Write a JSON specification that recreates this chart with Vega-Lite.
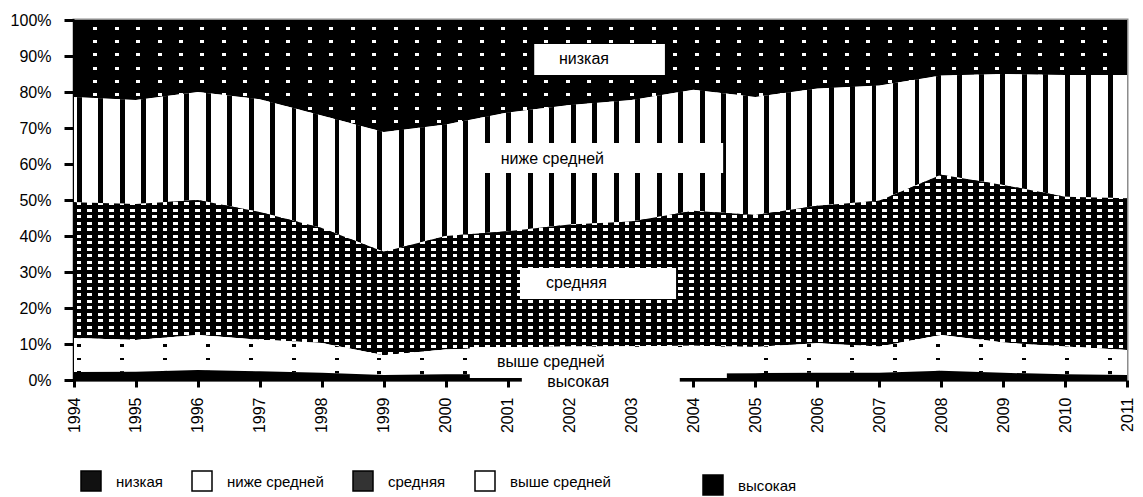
{
"$schema": "https://vega.github.io/schema/vega-lite/v6.json",
"width": 1053,
"height": 360,
"autosize": {"type": "none"},
"padding": {"left": 74, "top": 20, "right": 16, "bottom": 117},
"background": "#ffffff",
"datasets": {
"shares": [
{"year":1994,"cat":"высокая","o":1,"v":2.2},{"year":1994,"cat":"выше средней","o":2,"v":9.5},{"year":1994,"cat":"средняя","o":3,"v":37.7},{"year":1994,"cat":"ниже средней","o":4,"v":29.2},{"year":1994,"cat":"низкая","o":5,"v":21.4},
{"year":1995,"cat":"высокая","o":1,"v":2.3},{"year":1995,"cat":"выше средней","o":2,"v":8.8},{"year":1995,"cat":"средняя","o":3,"v":37.8},{"year":1995,"cat":"ниже средней","o":4,"v":28.9},{"year":1995,"cat":"низкая","o":5,"v":22.2},
{"year":1996,"cat":"высокая","o":1,"v":2.8},{"year":1996,"cat":"выше средней","o":2,"v":9.7},{"year":1996,"cat":"средняя","o":3,"v":37.5},{"year":1996,"cat":"ниже средней","o":4,"v":30.0},{"year":1996,"cat":"низкая","o":5,"v":20.0},
{"year":1997,"cat":"высокая","o":1,"v":2.4},{"year":1997,"cat":"выше средней","o":2,"v":8.8},{"year":1997,"cat":"средняя","o":3,"v":35.5},{"year":1997,"cat":"ниже средней","o":4,"v":31.3},{"year":1997,"cat":"низкая","o":5,"v":22.0},
{"year":1998,"cat":"высокая","o":1,"v":2.0},{"year":1998,"cat":"выше средней","o":2,"v":8.3},{"year":1998,"cat":"средняя","o":3,"v":31.9},{"year":1998,"cat":"ниже средней","o":4,"v":31.3},{"year":1998,"cat":"низкая","o":5,"v":26.5},
{"year":1999,"cat":"высокая","o":1,"v":1.4},{"year":1999,"cat":"выше средней","o":2,"v":5.5},{"year":1999,"cat":"средняя","o":3,"v":28.7},{"year":1999,"cat":"ниже средней","o":4,"v":33.3},{"year":1999,"cat":"низкая","o":5,"v":31.1},
{"year":2000,"cat":"высокая","o":1,"v":1.6},{"year":2000,"cat":"выше средней","o":2,"v":6.9},{"year":2000,"cat":"средняя","o":3,"v":31.5},{"year":2000,"cat":"ниже средней","o":4,"v":31.0},{"year":2000,"cat":"низкая","o":5,"v":29.0},
{"year":2001,"cat":"высокая","o":1,"v":1.6},{"year":2001,"cat":"выше средней","o":2,"v":7.4},{"year":2001,"cat":"средняя","o":3,"v":32.3},{"year":2001,"cat":"ниже средней","o":4,"v":33.0},{"year":2001,"cat":"низкая","o":5,"v":25.7},
{"year":2002,"cat":"высокая","o":1,"v":1.7},{"year":2002,"cat":"выше средней","o":2,"v":7.6},{"year":2002,"cat":"средняя","o":3,"v":33.9},{"year":2002,"cat":"ниже средней","o":4,"v":33.2},{"year":2002,"cat":"низкая","o":5,"v":23.6},
{"year":2003,"cat":"высокая","o":1,"v":1.7},{"year":2003,"cat":"выше средней","o":2,"v":7.7},{"year":2003,"cat":"средняя","o":3,"v":34.6},{"year":2003,"cat":"ниже средней","o":4,"v":33.8},{"year":2003,"cat":"низкая","o":5,"v":22.2},
{"year":2004,"cat":"высокая","o":1,"v":1.8},{"year":2004,"cat":"выше средней","o":2,"v":7.7},{"year":2004,"cat":"средняя","o":3,"v":37.5},{"year":2004,"cat":"ниже средней","o":4,"v":33.6},{"year":2004,"cat":"низкая","o":5,"v":19.4},
{"year":2005,"cat":"высокая","o":1,"v":1.9},{"year":2005,"cat":"выше средней","o":2,"v":7.3},{"year":2005,"cat":"средняя","o":3,"v":36.6},{"year":2005,"cat":"ниже средней","o":4,"v":32.8},{"year":2005,"cat":"низкая","o":5,"v":21.4},
{"year":2006,"cat":"высокая","o":1,"v":2.0},{"year":2006,"cat":"выше средней","o":2,"v":8.2},{"year":2006,"cat":"средняя","o":3,"v":38.2},{"year":2006,"cat":"ниже средней","o":4,"v":32.6},{"year":2006,"cat":"низкая","o":5,"v":19.0},
{"year":2007,"cat":"высокая","o":1,"v":2.0},{"year":2007,"cat":"выше средней","o":2,"v":7.3},{"year":2007,"cat":"средняя","o":3,"v":40.5},{"year":2007,"cat":"ниже средней","o":4,"v":32.0},{"year":2007,"cat":"низкая","o":5,"v":18.2},
{"year":2008,"cat":"высокая","o":1,"v":2.6},{"year":2008,"cat":"выше средней","o":2,"v":9.9},{"year":2008,"cat":"средняя","o":3,"v":44.5},{"year":2008,"cat":"ниже средней","o":4,"v":27.6},{"year":2008,"cat":"низкая","o":5,"v":15.4},
{"year":2009,"cat":"высокая","o":1,"v":2.0},{"year":2009,"cat":"выше средней","o":2,"v":8.4},{"year":2009,"cat":"средняя","o":3,"v":43.8},{"year":2009,"cat":"ниже средней","o":4,"v":30.8},{"year":2009,"cat":"низкая","o":5,"v":15.0},
{"year":2010,"cat":"высокая","o":1,"v":1.6},{"year":2010,"cat":"выше средней","o":2,"v":7.7},{"year":2010,"cat":"средняя","o":3,"v":41.6},{"year":2010,"cat":"ниже средней","o":4,"v":33.8},{"year":2010,"cat":"низкая","o":5,"v":15.3},
{"year":2011,"cat":"высокая","o":1,"v":1.4},{"year":2011,"cat":"выше средней","o":2,"v":6.9},{"year":2011,"cat":"средняя","o":3,"v":42.2},{"year":2011,"cat":"ниже средней","o":4,"v":34.2},{"year":2011,"cat":"низкая","o":5,"v":15.3}
],
"notes": [
{"label":"низкая","bx":2001.43,"bx2":2003.54,"by":84.7,"by2":93.3,"tx":2001.83,"ty":89.2},
{"label":"ниже средней","bx":2000.51,"bx2":2004.48,"by":57.5,"by2":65.8,"tx":2000.89,"ty":61.4},
{"label":"средняя","bx":2001.2,"bx2":2003.72,"by":22.5,"by2":31.1,"tx":2001.62,"ty":26.9},
{"label":"выше средней","bx":2000.39,"bx2":2004.54,"by":0.56,"by2":9.17,"tx":2000.83,"ty":5.0},
{"label":"высокая","bx":2001.23,"bx2":2003.78,"by":-4.2,"by2":2.8,"tx":2001.64,"ty":-0.56}
]
},
"data": {"name": "shares"},
"layer": [
{
"transform": [{"stack":"v","groupby":["year"],"sort":[{"field":"o","order":"ascending"}],"as":["y0","y1"]},{"filter":"datum.cat === 'низкая'"}],
"mark": {"type":"area","fill":{"gradient":"linear","x1":0,"y1":0,"x2":1,"y2":0,"stops":[
{"offset":0,"color":"#000"},
{"offset":0.0181,"color":"#000"},{"offset":0.0181,"color":"#fff"},{"offset":0.0219,"color":"#fff"},{"offset":0.0219,"color":"#000"},
{"offset":0.0385,"color":"#000"},{"offset":0.0385,"color":"#fff"},{"offset":0.0423,"color":"#fff"},{"offset":0.0423,"color":"#000"},
{"offset":0.0589,"color":"#000"},{"offset":0.0589,"color":"#fff"},{"offset":0.0627,"color":"#fff"},{"offset":0.0627,"color":"#000"},
{"offset":0.0793,"color":"#000"},{"offset":0.0793,"color":"#fff"},{"offset":0.0831,"color":"#fff"},{"offset":0.0831,"color":"#000"},
{"offset":0.0997,"color":"#000"},{"offset":0.0997,"color":"#fff"},{"offset":0.1035,"color":"#fff"},{"offset":0.1035,"color":"#000"},
{"offset":0.1201,"color":"#000"},{"offset":0.1201,"color":"#fff"},{"offset":0.1239,"color":"#fff"},{"offset":0.1239,"color":"#000"},
{"offset":0.1405,"color":"#000"},{"offset":0.1405,"color":"#fff"},{"offset":0.1443,"color":"#fff"},{"offset":0.1443,"color":"#000"},
{"offset":0.1609,"color":"#000"},{"offset":0.1609,"color":"#fff"},{"offset":0.1647,"color":"#fff"},{"offset":0.1647,"color":"#000"},
{"offset":0.1813,"color":"#000"},{"offset":0.1813,"color":"#fff"},{"offset":0.1851,"color":"#fff"},{"offset":0.1851,"color":"#000"},
{"offset":0.2017,"color":"#000"},{"offset":0.2017,"color":"#fff"},{"offset":0.2055,"color":"#fff"},{"offset":0.2055,"color":"#000"},
{"offset":0.2221,"color":"#000"},{"offset":0.2221,"color":"#fff"},{"offset":0.2259,"color":"#fff"},{"offset":0.2259,"color":"#000"},
{"offset":0.2425,"color":"#000"},{"offset":0.2425,"color":"#fff"},{"offset":0.2463,"color":"#fff"},{"offset":0.2463,"color":"#000"},
{"offset":0.2629,"color":"#000"},{"offset":0.2629,"color":"#fff"},{"offset":0.2667,"color":"#fff"},{"offset":0.2667,"color":"#000"},
{"offset":0.2833,"color":"#000"},{"offset":0.2833,"color":"#fff"},{"offset":0.2871,"color":"#fff"},{"offset":0.2871,"color":"#000"},
{"offset":0.3037,"color":"#000"},{"offset":0.3037,"color":"#fff"},{"offset":0.3075,"color":"#fff"},{"offset":0.3075,"color":"#000"},
{"offset":0.3241,"color":"#000"},{"offset":0.3241,"color":"#fff"},{"offset":0.3279,"color":"#fff"},{"offset":0.3279,"color":"#000"},
{"offset":0.3445,"color":"#000"},{"offset":0.3445,"color":"#fff"},{"offset":0.3483,"color":"#fff"},{"offset":0.3483,"color":"#000"},
{"offset":0.3649,"color":"#000"},{"offset":0.3649,"color":"#fff"},{"offset":0.3687,"color":"#fff"},{"offset":0.3687,"color":"#000"},
{"offset":0.3853,"color":"#000"},{"offset":0.3853,"color":"#fff"},{"offset":0.3891,"color":"#fff"},{"offset":0.3891,"color":"#000"},
{"offset":0.4057,"color":"#000"},{"offset":0.4057,"color":"#fff"},{"offset":0.4095,"color":"#fff"},{"offset":0.4095,"color":"#000"},
{"offset":0.4261,"color":"#000"},{"offset":0.4261,"color":"#fff"},{"offset":0.4299,"color":"#fff"},{"offset":0.4299,"color":"#000"},
{"offset":0.4465,"color":"#000"},{"offset":0.4465,"color":"#fff"},{"offset":0.4503,"color":"#fff"},{"offset":0.4503,"color":"#000"},
{"offset":0.4669,"color":"#000"},{"offset":0.4669,"color":"#fff"},{"offset":0.4707,"color":"#fff"},{"offset":0.4707,"color":"#000"},
{"offset":0.4873,"color":"#000"},{"offset":0.4873,"color":"#fff"},{"offset":0.4911,"color":"#fff"},{"offset":0.4911,"color":"#000"},
{"offset":0.5077,"color":"#000"},{"offset":0.5077,"color":"#fff"},{"offset":0.5115,"color":"#fff"},{"offset":0.5115,"color":"#000"},
{"offset":0.5281,"color":"#000"},{"offset":0.5281,"color":"#fff"},{"offset":0.5319,"color":"#fff"},{"offset":0.5319,"color":"#000"},
{"offset":0.5485,"color":"#000"},{"offset":0.5485,"color":"#fff"},{"offset":0.5523,"color":"#fff"},{"offset":0.5523,"color":"#000"},
{"offset":0.5689,"color":"#000"},{"offset":0.5689,"color":"#fff"},{"offset":0.5727,"color":"#fff"},{"offset":0.5727,"color":"#000"},
{"offset":0.5893,"color":"#000"},{"offset":0.5893,"color":"#fff"},{"offset":0.5931,"color":"#fff"},{"offset":0.5931,"color":"#000"},
{"offset":0.6097,"color":"#000"},{"offset":0.6097,"color":"#fff"},{"offset":0.6135,"color":"#fff"},{"offset":0.6135,"color":"#000"},
{"offset":0.6301,"color":"#000"},{"offset":0.6301,"color":"#fff"},{"offset":0.6339,"color":"#fff"},{"offset":0.6339,"color":"#000"},
{"offset":0.6505,"color":"#000"},{"offset":0.6505,"color":"#fff"},{"offset":0.6543,"color":"#fff"},{"offset":0.6543,"color":"#000"},
{"offset":0.6709,"color":"#000"},{"offset":0.6709,"color":"#fff"},{"offset":0.6747,"color":"#fff"},{"offset":0.6747,"color":"#000"},
{"offset":0.6913,"color":"#000"},{"offset":0.6913,"color":"#fff"},{"offset":0.6951,"color":"#fff"},{"offset":0.6951,"color":"#000"},
{"offset":0.7117,"color":"#000"},{"offset":0.7117,"color":"#fff"},{"offset":0.7155,"color":"#fff"},{"offset":0.7155,"color":"#000"},
{"offset":0.7321,"color":"#000"},{"offset":0.7321,"color":"#fff"},{"offset":0.7359,"color":"#fff"},{"offset":0.7359,"color":"#000"},
{"offset":0.7525,"color":"#000"},{"offset":0.7525,"color":"#fff"},{"offset":0.7563,"color":"#fff"},{"offset":0.7563,"color":"#000"},
{"offset":0.7729,"color":"#000"},{"offset":0.7729,"color":"#fff"},{"offset":0.7767,"color":"#fff"},{"offset":0.7767,"color":"#000"},
{"offset":0.7933,"color":"#000"},{"offset":0.7933,"color":"#fff"},{"offset":0.7971,"color":"#fff"},{"offset":0.7971,"color":"#000"},
{"offset":0.8137,"color":"#000"},{"offset":0.8137,"color":"#fff"},{"offset":0.8175,"color":"#fff"},{"offset":0.8175,"color":"#000"},
{"offset":0.8341,"color":"#000"},{"offset":0.8341,"color":"#fff"},{"offset":0.8379,"color":"#fff"},{"offset":0.8379,"color":"#000"},
{"offset":0.8545,"color":"#000"},{"offset":0.8545,"color":"#fff"},{"offset":0.8583,"color":"#fff"},{"offset":0.8583,"color":"#000"},
{"offset":0.8749,"color":"#000"},{"offset":0.8749,"color":"#fff"},{"offset":0.8787,"color":"#fff"},{"offset":0.8787,"color":"#000"},
{"offset":0.8953,"color":"#000"},{"offset":0.8953,"color":"#fff"},{"offset":0.8991,"color":"#fff"},{"offset":0.8991,"color":"#000"},
{"offset":0.9157,"color":"#000"},{"offset":0.9157,"color":"#fff"},{"offset":0.9195,"color":"#fff"},{"offset":0.9195,"color":"#000"},
{"offset":0.9361,"color":"#000"},{"offset":0.9361,"color":"#fff"},{"offset":0.9399,"color":"#fff"},{"offset":0.9399,"color":"#000"},
{"offset":0.9565,"color":"#000"},{"offset":0.9565,"color":"#fff"},{"offset":0.9603,"color":"#fff"},{"offset":0.9603,"color":"#000"},
{"offset":0.9769,"color":"#000"},{"offset":0.9769,"color":"#fff"},{"offset":0.9807,"color":"#fff"},{"offset":0.9807,"color":"#000"},
{"offset":1,"color":"#000"}]}},
"encoding": {
"x": {"field":"year","type":"quantitative","title":null,"scale":{"domain":[1994,2011],"nice":false,"zero":false},"axis":{"values":[1994,1995,1996,1997,1998,1999,2000,2001,2002,2003,2004,2005,2006,2007,2008,2009,2010,2011],"format":"d","title":null}},
"y": {"field":"y0","type":"quantitative","title":null,"scale":{"domain":[0,100],"nice":false,"zero":false},"axis":{"values":[0,10,20,30,40,50,60,70,80,90,100],"labelExpr":"datum.value + '%'","title":null}},
"y2": {"field":"y1"}
}
},
{
"transform": [{"stack":"v","groupby":["year"],"sort":[{"field":"o","order":"ascending"}],"as":["y0","y1"]},{"filter":"datum.cat === 'низкая'"}],
"mark": {"type":"area","fill":{"gradient":"linear","x1":0,"y1":0,"x2":0,"y2":1,"stops":[
{"offset":0,"color":"#000"},
{"offset":0.0607,"color":"#000"},{"offset":0.0607,"color":"rgba(0,0,0,0)"},{"offset":0.0875,"color":"rgba(0,0,0,0)"},{"offset":0.0875,"color":"#000"},
{"offset":0.1795,"color":"#000"},{"offset":0.1795,"color":"rgba(0,0,0,0)"},{"offset":0.2063,"color":"rgba(0,0,0,0)"},{"offset":0.2063,"color":"#000"},
{"offset":0.2983,"color":"#000"},{"offset":0.2983,"color":"rgba(0,0,0,0)"},{"offset":0.3251,"color":"rgba(0,0,0,0)"},{"offset":0.3251,"color":"#000"},
{"offset":0.4171,"color":"#000"},{"offset":0.4171,"color":"rgba(0,0,0,0)"},{"offset":0.4439,"color":"rgba(0,0,0,0)"},{"offset":0.4439,"color":"#000"},
{"offset":0.5359,"color":"#000"},{"offset":0.5359,"color":"rgba(0,0,0,0)"},{"offset":0.5627,"color":"rgba(0,0,0,0)"},{"offset":0.5627,"color":"#000"},
{"offset":0.6547,"color":"#000"},{"offset":0.6547,"color":"rgba(0,0,0,0)"},{"offset":0.6815,"color":"rgba(0,0,0,0)"},{"offset":0.6815,"color":"#000"},
{"offset":0.7735,"color":"#000"},{"offset":0.7735,"color":"rgba(0,0,0,0)"},{"offset":0.8003,"color":"rgba(0,0,0,0)"},{"offset":0.8003,"color":"#000"},
{"offset":0.8923,"color":"#000"},{"offset":0.8923,"color":"rgba(0,0,0,0)"},{"offset":0.9191,"color":"rgba(0,0,0,0)"},{"offset":0.9191,"color":"#000"},
{"offset":1,"color":"#000"}]}},
"encoding": {"x":{"field":"year","type":"quantitative","title":null,"axis":{"values":[1994,1995,1996,1997,1998,1999,2000,2001,2002,2003,2004,2005,2006,2007,2008,2009,2010,2011],"format":"d","title":null}},"y":{"field":"y0","type":"quantitative","title":null,"axis":{"values":[0,10,20,30,40,50,60,70,80,90,100],"labelExpr":"datum.value + '%'","title":null}},"y2":{"field":"y1"}}
},
{
"transform": [{"stack":"v","groupby":["year"],"sort":[{"field":"o","order":"ascending"}],"as":["y0","y1"]},{"filter":"datum.cat === 'ниже средней'"}],
"mark": {"type":"area","fill":{"gradient":"linear","x1":0,"y1":0,"x2":1,"y2":0,"stops":[
{"offset":0,"color":"#fff"},
{"offset":0.0026,"color":"#fff"},{"offset":0.0026,"color":"#000"},{"offset":0.0073,"color":"#000"},{"offset":0.0073,"color":"#fff"},
{"offset":0.0230,"color":"#fff"},{"offset":0.0230,"color":"#000"},{"offset":0.0277,"color":"#000"},{"offset":0.0277,"color":"#fff"},
{"offset":0.0434,"color":"#fff"},{"offset":0.0434,"color":"#000"},{"offset":0.0481,"color":"#000"},{"offset":0.0481,"color":"#fff"},
{"offset":0.0638,"color":"#fff"},{"offset":0.0638,"color":"#000"},{"offset":0.0685,"color":"#000"},{"offset":0.0685,"color":"#fff"},
{"offset":0.0842,"color":"#fff"},{"offset":0.0842,"color":"#000"},{"offset":0.0889,"color":"#000"},{"offset":0.0889,"color":"#fff"},
{"offset":0.1046,"color":"#fff"},{"offset":0.1046,"color":"#000"},{"offset":0.1093,"color":"#000"},{"offset":0.1093,"color":"#fff"},
{"offset":0.1250,"color":"#fff"},{"offset":0.1250,"color":"#000"},{"offset":0.1297,"color":"#000"},{"offset":0.1297,"color":"#fff"},
{"offset":0.1454,"color":"#fff"},{"offset":0.1454,"color":"#000"},{"offset":0.1501,"color":"#000"},{"offset":0.1501,"color":"#fff"},
{"offset":0.1658,"color":"#fff"},{"offset":0.1658,"color":"#000"},{"offset":0.1705,"color":"#000"},{"offset":0.1705,"color":"#fff"},
{"offset":0.1862,"color":"#fff"},{"offset":0.1862,"color":"#000"},{"offset":0.1909,"color":"#000"},{"offset":0.1909,"color":"#fff"},
{"offset":0.2066,"color":"#fff"},{"offset":0.2066,"color":"#000"},{"offset":0.2113,"color":"#000"},{"offset":0.2113,"color":"#fff"},
{"offset":0.2270,"color":"#fff"},{"offset":0.2270,"color":"#000"},{"offset":0.2317,"color":"#000"},{"offset":0.2317,"color":"#fff"},
{"offset":0.2474,"color":"#fff"},{"offset":0.2474,"color":"#000"},{"offset":0.2521,"color":"#000"},{"offset":0.2521,"color":"#fff"},
{"offset":0.2678,"color":"#fff"},{"offset":0.2678,"color":"#000"},{"offset":0.2725,"color":"#000"},{"offset":0.2725,"color":"#fff"},
{"offset":0.2882,"color":"#fff"},{"offset":0.2882,"color":"#000"},{"offset":0.2929,"color":"#000"},{"offset":0.2929,"color":"#fff"},
{"offset":0.3086,"color":"#fff"},{"offset":0.3086,"color":"#000"},{"offset":0.3133,"color":"#000"},{"offset":0.3133,"color":"#fff"},
{"offset":0.3290,"color":"#fff"},{"offset":0.3290,"color":"#000"},{"offset":0.3337,"color":"#000"},{"offset":0.3337,"color":"#fff"},
{"offset":0.3494,"color":"#fff"},{"offset":0.3494,"color":"#000"},{"offset":0.3541,"color":"#000"},{"offset":0.3541,"color":"#fff"},
{"offset":0.3698,"color":"#fff"},{"offset":0.3698,"color":"#000"},{"offset":0.3745,"color":"#000"},{"offset":0.3745,"color":"#fff"},
{"offset":0.3902,"color":"#fff"},{"offset":0.3902,"color":"#000"},{"offset":0.3949,"color":"#000"},{"offset":0.3949,"color":"#fff"},
{"offset":0.4106,"color":"#fff"},{"offset":0.4106,"color":"#000"},{"offset":0.4153,"color":"#000"},{"offset":0.4153,"color":"#fff"},
{"offset":0.4310,"color":"#fff"},{"offset":0.4310,"color":"#000"},{"offset":0.4357,"color":"#000"},{"offset":0.4357,"color":"#fff"},
{"offset":0.4514,"color":"#fff"},{"offset":0.4514,"color":"#000"},{"offset":0.4561,"color":"#000"},{"offset":0.4561,"color":"#fff"},
{"offset":0.4718,"color":"#fff"},{"offset":0.4718,"color":"#000"},{"offset":0.4765,"color":"#000"},{"offset":0.4765,"color":"#fff"},
{"offset":0.4922,"color":"#fff"},{"offset":0.4922,"color":"#000"},{"offset":0.4969,"color":"#000"},{"offset":0.4969,"color":"#fff"},
{"offset":0.5126,"color":"#fff"},{"offset":0.5126,"color":"#000"},{"offset":0.5173,"color":"#000"},{"offset":0.5173,"color":"#fff"},
{"offset":0.5330,"color":"#fff"},{"offset":0.5330,"color":"#000"},{"offset":0.5377,"color":"#000"},{"offset":0.5377,"color":"#fff"},
{"offset":0.5534,"color":"#fff"},{"offset":0.5534,"color":"#000"},{"offset":0.5581,"color":"#000"},{"offset":0.5581,"color":"#fff"},
{"offset":0.5738,"color":"#fff"},{"offset":0.5738,"color":"#000"},{"offset":0.5785,"color":"#000"},{"offset":0.5785,"color":"#fff"},
{"offset":0.5942,"color":"#fff"},{"offset":0.5942,"color":"#000"},{"offset":0.5989,"color":"#000"},{"offset":0.5989,"color":"#fff"},
{"offset":0.6146,"color":"#fff"},{"offset":0.6146,"color":"#000"},{"offset":0.6193,"color":"#000"},{"offset":0.6193,"color":"#fff"},
{"offset":0.6350,"color":"#fff"},{"offset":0.6350,"color":"#000"},{"offset":0.6397,"color":"#000"},{"offset":0.6397,"color":"#fff"},
{"offset":0.6554,"color":"#fff"},{"offset":0.6554,"color":"#000"},{"offset":0.6601,"color":"#000"},{"offset":0.6601,"color":"#fff"},
{"offset":0.6758,"color":"#fff"},{"offset":0.6758,"color":"#000"},{"offset":0.6805,"color":"#000"},{"offset":0.6805,"color":"#fff"},
{"offset":0.6962,"color":"#fff"},{"offset":0.6962,"color":"#000"},{"offset":0.7009,"color":"#000"},{"offset":0.7009,"color":"#fff"},
{"offset":0.7166,"color":"#fff"},{"offset":0.7166,"color":"#000"},{"offset":0.7213,"color":"#000"},{"offset":0.7213,"color":"#fff"},
{"offset":0.7370,"color":"#fff"},{"offset":0.7370,"color":"#000"},{"offset":0.7417,"color":"#000"},{"offset":0.7417,"color":"#fff"},
{"offset":0.7574,"color":"#fff"},{"offset":0.7574,"color":"#000"},{"offset":0.7621,"color":"#000"},{"offset":0.7621,"color":"#fff"},
{"offset":0.7778,"color":"#fff"},{"offset":0.7778,"color":"#000"},{"offset":0.7825,"color":"#000"},{"offset":0.7825,"color":"#fff"},
{"offset":0.7982,"color":"#fff"},{"offset":0.7982,"color":"#000"},{"offset":0.8029,"color":"#000"},{"offset":0.8029,"color":"#fff"},
{"offset":0.8186,"color":"#fff"},{"offset":0.8186,"color":"#000"},{"offset":0.8233,"color":"#000"},{"offset":0.8233,"color":"#fff"},
{"offset":0.8390,"color":"#fff"},{"offset":0.8390,"color":"#000"},{"offset":0.8437,"color":"#000"},{"offset":0.8437,"color":"#fff"},
{"offset":0.8594,"color":"#fff"},{"offset":0.8594,"color":"#000"},{"offset":0.8641,"color":"#000"},{"offset":0.8641,"color":"#fff"},
{"offset":0.8798,"color":"#fff"},{"offset":0.8798,"color":"#000"},{"offset":0.8845,"color":"#000"},{"offset":0.8845,"color":"#fff"},
{"offset":0.9002,"color":"#fff"},{"offset":0.9002,"color":"#000"},{"offset":0.9049,"color":"#000"},{"offset":0.9049,"color":"#fff"},
{"offset":0.9206,"color":"#fff"},{"offset":0.9206,"color":"#000"},{"offset":0.9253,"color":"#000"},{"offset":0.9253,"color":"#fff"},
{"offset":0.9410,"color":"#fff"},{"offset":0.9410,"color":"#000"},{"offset":0.9457,"color":"#000"},{"offset":0.9457,"color":"#fff"},
{"offset":0.9614,"color":"#fff"},{"offset":0.9614,"color":"#000"},{"offset":0.9661,"color":"#000"},{"offset":0.9661,"color":"#fff"},
{"offset":0.9818,"color":"#fff"},{"offset":0.9818,"color":"#000"},{"offset":0.9865,"color":"#000"},{"offset":0.9865,"color":"#fff"},
{"offset":1,"color":"#fff"}]}},
"encoding": {"x":{"field":"year","type":"quantitative","title":null,"axis":{"values":[1994,1995,1996,1997,1998,1999,2000,2001,2002,2003,2004,2005,2006,2007,2008,2009,2010,2011],"format":"d","title":null}},"y":{"field":"y0","type":"quantitative","title":null,"axis":{"values":[0,10,20,30,40,50,60,70,80,90,100],"labelExpr":"datum.value + '%'","title":null}},"y2":{"field":"y1"}}
},
{
"transform": [{"stack":"v","groupby":["year"],"sort":[{"field":"o","order":"ascending"}],"as":["y0","y1"]},{"filter":"datum.cat === 'средняя'"}],
"mark": {"type":"area","fill":{"gradient":"linear","x1":0,"y1":0,"x2":1,"y2":0,"stops":[
{"offset":0,"color":"#000"},
{"offset":0.0026,"color":"#000"},{"offset":0.0026,"color":"#fff"},{"offset":0.0071,"color":"#fff"},{"offset":0.0071,"color":"#000"},
{"offset":0.0128,"color":"#000"},{"offset":0.0128,"color":"#fff"},{"offset":0.0173,"color":"#fff"},{"offset":0.0173,"color":"#000"},
{"offset":0.0230,"color":"#000"},{"offset":0.0230,"color":"#fff"},{"offset":0.0275,"color":"#fff"},{"offset":0.0275,"color":"#000"},
{"offset":0.0332,"color":"#000"},{"offset":0.0332,"color":"#fff"},{"offset":0.0377,"color":"#fff"},{"offset":0.0377,"color":"#000"},
{"offset":0.0434,"color":"#000"},{"offset":0.0434,"color":"#fff"},{"offset":0.0479,"color":"#fff"},{"offset":0.0479,"color":"#000"},
{"offset":0.0536,"color":"#000"},{"offset":0.0536,"color":"#fff"},{"offset":0.0581,"color":"#fff"},{"offset":0.0581,"color":"#000"},
{"offset":0.0638,"color":"#000"},{"offset":0.0638,"color":"#fff"},{"offset":0.0683,"color":"#fff"},{"offset":0.0683,"color":"#000"},
{"offset":0.0740,"color":"#000"},{"offset":0.0740,"color":"#fff"},{"offset":0.0785,"color":"#fff"},{"offset":0.0785,"color":"#000"},
{"offset":0.0842,"color":"#000"},{"offset":0.0842,"color":"#fff"},{"offset":0.0887,"color":"#fff"},{"offset":0.0887,"color":"#000"},
{"offset":0.0944,"color":"#000"},{"offset":0.0944,"color":"#fff"},{"offset":0.0989,"color":"#fff"},{"offset":0.0989,"color":"#000"},
{"offset":0.1046,"color":"#000"},{"offset":0.1046,"color":"#fff"},{"offset":0.1091,"color":"#fff"},{"offset":0.1091,"color":"#000"},
{"offset":0.1148,"color":"#000"},{"offset":0.1148,"color":"#fff"},{"offset":0.1193,"color":"#fff"},{"offset":0.1193,"color":"#000"},
{"offset":0.1250,"color":"#000"},{"offset":0.1250,"color":"#fff"},{"offset":0.1295,"color":"#fff"},{"offset":0.1295,"color":"#000"},
{"offset":0.1352,"color":"#000"},{"offset":0.1352,"color":"#fff"},{"offset":0.1397,"color":"#fff"},{"offset":0.1397,"color":"#000"},
{"offset":0.1454,"color":"#000"},{"offset":0.1454,"color":"#fff"},{"offset":0.1499,"color":"#fff"},{"offset":0.1499,"color":"#000"},
{"offset":0.1556,"color":"#000"},{"offset":0.1556,"color":"#fff"},{"offset":0.1601,"color":"#fff"},{"offset":0.1601,"color":"#000"},
{"offset":0.1658,"color":"#000"},{"offset":0.1658,"color":"#fff"},{"offset":0.1703,"color":"#fff"},{"offset":0.1703,"color":"#000"},
{"offset":0.1760,"color":"#000"},{"offset":0.1760,"color":"#fff"},{"offset":0.1805,"color":"#fff"},{"offset":0.1805,"color":"#000"},
{"offset":0.1862,"color":"#000"},{"offset":0.1862,"color":"#fff"},{"offset":0.1907,"color":"#fff"},{"offset":0.1907,"color":"#000"},
{"offset":0.1964,"color":"#000"},{"offset":0.1964,"color":"#fff"},{"offset":0.2009,"color":"#fff"},{"offset":0.2009,"color":"#000"},
{"offset":0.2066,"color":"#000"},{"offset":0.2066,"color":"#fff"},{"offset":0.2111,"color":"#fff"},{"offset":0.2111,"color":"#000"},
{"offset":0.2168,"color":"#000"},{"offset":0.2168,"color":"#fff"},{"offset":0.2213,"color":"#fff"},{"offset":0.2213,"color":"#000"},
{"offset":0.2270,"color":"#000"},{"offset":0.2270,"color":"#fff"},{"offset":0.2315,"color":"#fff"},{"offset":0.2315,"color":"#000"},
{"offset":0.2372,"color":"#000"},{"offset":0.2372,"color":"#fff"},{"offset":0.2417,"color":"#fff"},{"offset":0.2417,"color":"#000"},
{"offset":0.2474,"color":"#000"},{"offset":0.2474,"color":"#fff"},{"offset":0.2519,"color":"#fff"},{"offset":0.2519,"color":"#000"},
{"offset":0.2576,"color":"#000"},{"offset":0.2576,"color":"#fff"},{"offset":0.2621,"color":"#fff"},{"offset":0.2621,"color":"#000"},
{"offset":0.2678,"color":"#000"},{"offset":0.2678,"color":"#fff"},{"offset":0.2723,"color":"#fff"},{"offset":0.2723,"color":"#000"},
{"offset":0.2780,"color":"#000"},{"offset":0.2780,"color":"#fff"},{"offset":0.2825,"color":"#fff"},{"offset":0.2825,"color":"#000"},
{"offset":0.2882,"color":"#000"},{"offset":0.2882,"color":"#fff"},{"offset":0.2927,"color":"#fff"},{"offset":0.2927,"color":"#000"},
{"offset":0.2984,"color":"#000"},{"offset":0.2984,"color":"#fff"},{"offset":0.3029,"color":"#fff"},{"offset":0.3029,"color":"#000"},
{"offset":0.3086,"color":"#000"},{"offset":0.3086,"color":"#fff"},{"offset":0.3131,"color":"#fff"},{"offset":0.3131,"color":"#000"},
{"offset":0.3188,"color":"#000"},{"offset":0.3188,"color":"#fff"},{"offset":0.3233,"color":"#fff"},{"offset":0.3233,"color":"#000"},
{"offset":0.3290,"color":"#000"},{"offset":0.3290,"color":"#fff"},{"offset":0.3335,"color":"#fff"},{"offset":0.3335,"color":"#000"},
{"offset":0.3392,"color":"#000"},{"offset":0.3392,"color":"#fff"},{"offset":0.3437,"color":"#fff"},{"offset":0.3437,"color":"#000"},
{"offset":0.3494,"color":"#000"},{"offset":0.3494,"color":"#fff"},{"offset":0.3539,"color":"#fff"},{"offset":0.3539,"color":"#000"},
{"offset":0.3596,"color":"#000"},{"offset":0.3596,"color":"#fff"},{"offset":0.3641,"color":"#fff"},{"offset":0.3641,"color":"#000"},
{"offset":0.3698,"color":"#000"},{"offset":0.3698,"color":"#fff"},{"offset":0.3743,"color":"#fff"},{"offset":0.3743,"color":"#000"},
{"offset":0.3800,"color":"#000"},{"offset":0.3800,"color":"#fff"},{"offset":0.3845,"color":"#fff"},{"offset":0.3845,"color":"#000"},
{"offset":0.3902,"color":"#000"},{"offset":0.3902,"color":"#fff"},{"offset":0.3947,"color":"#fff"},{"offset":0.3947,"color":"#000"},
{"offset":0.4004,"color":"#000"},{"offset":0.4004,"color":"#fff"},{"offset":0.4049,"color":"#fff"},{"offset":0.4049,"color":"#000"},
{"offset":0.4106,"color":"#000"},{"offset":0.4106,"color":"#fff"},{"offset":0.4151,"color":"#fff"},{"offset":0.4151,"color":"#000"},
{"offset":0.4208,"color":"#000"},{"offset":0.4208,"color":"#fff"},{"offset":0.4253,"color":"#fff"},{"offset":0.4253,"color":"#000"},
{"offset":0.4310,"color":"#000"},{"offset":0.4310,"color":"#fff"},{"offset":0.4355,"color":"#fff"},{"offset":0.4355,"color":"#000"},
{"offset":0.4412,"color":"#000"},{"offset":0.4412,"color":"#fff"},{"offset":0.4457,"color":"#fff"},{"offset":0.4457,"color":"#000"},
{"offset":0.4514,"color":"#000"},{"offset":0.4514,"color":"#fff"},{"offset":0.4559,"color":"#fff"},{"offset":0.4559,"color":"#000"},
{"offset":0.4616,"color":"#000"},{"offset":0.4616,"color":"#fff"},{"offset":0.4661,"color":"#fff"},{"offset":0.4661,"color":"#000"},
{"offset":0.4718,"color":"#000"},{"offset":0.4718,"color":"#fff"},{"offset":0.4763,"color":"#fff"},{"offset":0.4763,"color":"#000"},
{"offset":0.4820,"color":"#000"},{"offset":0.4820,"color":"#fff"},{"offset":0.4865,"color":"#fff"},{"offset":0.4865,"color":"#000"},
{"offset":0.4922,"color":"#000"},{"offset":0.4922,"color":"#fff"},{"offset":0.4967,"color":"#fff"},{"offset":0.4967,"color":"#000"},
{"offset":0.5024,"color":"#000"},{"offset":0.5024,"color":"#fff"},{"offset":0.5069,"color":"#fff"},{"offset":0.5069,"color":"#000"},
{"offset":0.5126,"color":"#000"},{"offset":0.5126,"color":"#fff"},{"offset":0.5171,"color":"#fff"},{"offset":0.5171,"color":"#000"},
{"offset":0.5228,"color":"#000"},{"offset":0.5228,"color":"#fff"},{"offset":0.5273,"color":"#fff"},{"offset":0.5273,"color":"#000"},
{"offset":0.5330,"color":"#000"},{"offset":0.5330,"color":"#fff"},{"offset":0.5375,"color":"#fff"},{"offset":0.5375,"color":"#000"},
{"offset":0.5432,"color":"#000"},{"offset":0.5432,"color":"#fff"},{"offset":0.5477,"color":"#fff"},{"offset":0.5477,"color":"#000"},
{"offset":0.5534,"color":"#000"},{"offset":0.5534,"color":"#fff"},{"offset":0.5579,"color":"#fff"},{"offset":0.5579,"color":"#000"},
{"offset":0.5636,"color":"#000"},{"offset":0.5636,"color":"#fff"},{"offset":0.5681,"color":"#fff"},{"offset":0.5681,"color":"#000"},
{"offset":0.5738,"color":"#000"},{"offset":0.5738,"color":"#fff"},{"offset":0.5783,"color":"#fff"},{"offset":0.5783,"color":"#000"},
{"offset":0.5840,"color":"#000"},{"offset":0.5840,"color":"#fff"},{"offset":0.5885,"color":"#fff"},{"offset":0.5885,"color":"#000"},
{"offset":0.5942,"color":"#000"},{"offset":0.5942,"color":"#fff"},{"offset":0.5987,"color":"#fff"},{"offset":0.5987,"color":"#000"},
{"offset":0.6044,"color":"#000"},{"offset":0.6044,"color":"#fff"},{"offset":0.6089,"color":"#fff"},{"offset":0.6089,"color":"#000"},
{"offset":0.6146,"color":"#000"},{"offset":0.6146,"color":"#fff"},{"offset":0.6191,"color":"#fff"},{"offset":0.6191,"color":"#000"},
{"offset":0.6248,"color":"#000"},{"offset":0.6248,"color":"#fff"},{"offset":0.6293,"color":"#fff"},{"offset":0.6293,"color":"#000"},
{"offset":0.6350,"color":"#000"},{"offset":0.6350,"color":"#fff"},{"offset":0.6395,"color":"#fff"},{"offset":0.6395,"color":"#000"},
{"offset":0.6452,"color":"#000"},{"offset":0.6452,"color":"#fff"},{"offset":0.6497,"color":"#fff"},{"offset":0.6497,"color":"#000"},
{"offset":0.6554,"color":"#000"},{"offset":0.6554,"color":"#fff"},{"offset":0.6599,"color":"#fff"},{"offset":0.6599,"color":"#000"},
{"offset":0.6656,"color":"#000"},{"offset":0.6656,"color":"#fff"},{"offset":0.6701,"color":"#fff"},{"offset":0.6701,"color":"#000"},
{"offset":0.6758,"color":"#000"},{"offset":0.6758,"color":"#fff"},{"offset":0.6803,"color":"#fff"},{"offset":0.6803,"color":"#000"},
{"offset":0.6860,"color":"#000"},{"offset":0.6860,"color":"#fff"},{"offset":0.6905,"color":"#fff"},{"offset":0.6905,"color":"#000"},
{"offset":0.6962,"color":"#000"},{"offset":0.6962,"color":"#fff"},{"offset":0.7007,"color":"#fff"},{"offset":0.7007,"color":"#000"},
{"offset":0.7064,"color":"#000"},{"offset":0.7064,"color":"#fff"},{"offset":0.7109,"color":"#fff"},{"offset":0.7109,"color":"#000"},
{"offset":0.7166,"color":"#000"},{"offset":0.7166,"color":"#fff"},{"offset":0.7211,"color":"#fff"},{"offset":0.7211,"color":"#000"},
{"offset":0.7268,"color":"#000"},{"offset":0.7268,"color":"#fff"},{"offset":0.7313,"color":"#fff"},{"offset":0.7313,"color":"#000"},
{"offset":0.7370,"color":"#000"},{"offset":0.7370,"color":"#fff"},{"offset":0.7415,"color":"#fff"},{"offset":0.7415,"color":"#000"},
{"offset":0.7472,"color":"#000"},{"offset":0.7472,"color":"#fff"},{"offset":0.7517,"color":"#fff"},{"offset":0.7517,"color":"#000"},
{"offset":0.7574,"color":"#000"},{"offset":0.7574,"color":"#fff"},{"offset":0.7619,"color":"#fff"},{"offset":0.7619,"color":"#000"},
{"offset":0.7676,"color":"#000"},{"offset":0.7676,"color":"#fff"},{"offset":0.7721,"color":"#fff"},{"offset":0.7721,"color":"#000"},
{"offset":0.7778,"color":"#000"},{"offset":0.7778,"color":"#fff"},{"offset":0.7823,"color":"#fff"},{"offset":0.7823,"color":"#000"},
{"offset":0.7880,"color":"#000"},{"offset":0.7880,"color":"#fff"},{"offset":0.7925,"color":"#fff"},{"offset":0.7925,"color":"#000"},
{"offset":0.7982,"color":"#000"},{"offset":0.7982,"color":"#fff"},{"offset":0.8027,"color":"#fff"},{"offset":0.8027,"color":"#000"},
{"offset":0.8084,"color":"#000"},{"offset":0.8084,"color":"#fff"},{"offset":0.8129,"color":"#fff"},{"offset":0.8129,"color":"#000"},
{"offset":0.8186,"color":"#000"},{"offset":0.8186,"color":"#fff"},{"offset":0.8231,"color":"#fff"},{"offset":0.8231,"color":"#000"},
{"offset":0.8288,"color":"#000"},{"offset":0.8288,"color":"#fff"},{"offset":0.8333,"color":"#fff"},{"offset":0.8333,"color":"#000"},
{"offset":0.8390,"color":"#000"},{"offset":0.8390,"color":"#fff"},{"offset":0.8435,"color":"#fff"},{"offset":0.8435,"color":"#000"},
{"offset":0.8492,"color":"#000"},{"offset":0.8492,"color":"#fff"},{"offset":0.8537,"color":"#fff"},{"offset":0.8537,"color":"#000"},
{"offset":0.8594,"color":"#000"},{"offset":0.8594,"color":"#fff"},{"offset":0.8639,"color":"#fff"},{"offset":0.8639,"color":"#000"},
{"offset":0.8696,"color":"#000"},{"offset":0.8696,"color":"#fff"},{"offset":0.8741,"color":"#fff"},{"offset":0.8741,"color":"#000"},
{"offset":0.8798,"color":"#000"},{"offset":0.8798,"color":"#fff"},{"offset":0.8843,"color":"#fff"},{"offset":0.8843,"color":"#000"},
{"offset":0.8900,"color":"#000"},{"offset":0.8900,"color":"#fff"},{"offset":0.8945,"color":"#fff"},{"offset":0.8945,"color":"#000"},
{"offset":0.9002,"color":"#000"},{"offset":0.9002,"color":"#fff"},{"offset":0.9047,"color":"#fff"},{"offset":0.9047,"color":"#000"},
{"offset":0.9104,"color":"#000"},{"offset":0.9104,"color":"#fff"},{"offset":0.9149,"color":"#fff"},{"offset":0.9149,"color":"#000"},
{"offset":0.9206,"color":"#000"},{"offset":0.9206,"color":"#fff"},{"offset":0.9251,"color":"#fff"},{"offset":0.9251,"color":"#000"},
{"offset":0.9308,"color":"#000"},{"offset":0.9308,"color":"#fff"},{"offset":0.9353,"color":"#fff"},{"offset":0.9353,"color":"#000"},
{"offset":0.9410,"color":"#000"},{"offset":0.9410,"color":"#fff"},{"offset":0.9455,"color":"#fff"},{"offset":0.9455,"color":"#000"},
{"offset":0.9512,"color":"#000"},{"offset":0.9512,"color":"#fff"},{"offset":0.9557,"color":"#fff"},{"offset":0.9557,"color":"#000"},
{"offset":0.9614,"color":"#000"},{"offset":0.9614,"color":"#fff"},{"offset":0.9659,"color":"#fff"},{"offset":0.9659,"color":"#000"},
{"offset":0.9716,"color":"#000"},{"offset":0.9716,"color":"#fff"},{"offset":0.9761,"color":"#fff"},{"offset":0.9761,"color":"#000"},
{"offset":0.9818,"color":"#000"},{"offset":0.9818,"color":"#fff"},{"offset":0.9863,"color":"#fff"},{"offset":0.9863,"color":"#000"},
{"offset":0.9920,"color":"#000"},{"offset":0.9920,"color":"#fff"},{"offset":0.9965,"color":"#fff"},{"offset":0.9965,"color":"#000"},
{"offset":1,"color":"#000"}]}},
"encoding": {"x":{"field":"year","type":"quantitative","title":null,"axis":{"values":[1994,1995,1996,1997,1998,1999,2000,2001,2002,2003,2004,2005,2006,2007,2008,2009,2010,2011],"format":"d","title":null}},"y":{"field":"y0","type":"quantitative","title":null,"axis":{"values":[0,10,20,30,40,50,60,70,80,90,100],"labelExpr":"datum.value + '%'","title":null}},"y2":{"field":"y1"}}
},
{
"transform": [{"stack":"v","groupby":["year"],"sort":[{"field":"o","order":"ascending"}],"as":["y0","y1"]},{"filter":"datum.cat === 'средняя'"}],
"mark": {"type":"area","fill":{"gradient":"linear","x1":0,"y1":0,"x2":0,"y2":1,"stops":[
{"offset":0,"color":"#000"},
{"offset":0.0083,"color":"#000"},{"offset":0.0083,"color":"rgba(0,0,0,0)"},{"offset":0.0250,"color":"rgba(0,0,0,0)"},{"offset":0.0250,"color":"#000"},
{"offset":0.0443,"color":"#000"},{"offset":0.0443,"color":"rgba(0,0,0,0)"},{"offset":0.0610,"color":"rgba(0,0,0,0)"},{"offset":0.0610,"color":"#000"},
{"offset":0.0804,"color":"#000"},{"offset":0.0804,"color":"rgba(0,0,0,0)"},{"offset":0.0971,"color":"rgba(0,0,0,0)"},{"offset":0.0971,"color":"#000"},
{"offset":0.1164,"color":"#000"},{"offset":0.1164,"color":"rgba(0,0,0,0)"},{"offset":0.1331,"color":"rgba(0,0,0,0)"},{"offset":0.1331,"color":"#000"},
{"offset":0.1525,"color":"#000"},{"offset":0.1525,"color":"rgba(0,0,0,0)"},{"offset":0.1692,"color":"rgba(0,0,0,0)"},{"offset":0.1692,"color":"#000"},
{"offset":0.1885,"color":"#000"},{"offset":0.1885,"color":"rgba(0,0,0,0)"},{"offset":0.2052,"color":"rgba(0,0,0,0)"},{"offset":0.2052,"color":"#000"},
{"offset":0.2245,"color":"#000"},{"offset":0.2245,"color":"rgba(0,0,0,0)"},{"offset":0.2412,"color":"rgba(0,0,0,0)"},{"offset":0.2412,"color":"#000"},
{"offset":0.2606,"color":"#000"},{"offset":0.2606,"color":"rgba(0,0,0,0)"},{"offset":0.2773,"color":"rgba(0,0,0,0)"},{"offset":0.2773,"color":"#000"},
{"offset":0.2966,"color":"#000"},{"offset":0.2966,"color":"rgba(0,0,0,0)"},{"offset":0.3133,"color":"rgba(0,0,0,0)"},{"offset":0.3133,"color":"#000"},
{"offset":0.3327,"color":"#000"},{"offset":0.3327,"color":"rgba(0,0,0,0)"},{"offset":0.3494,"color":"rgba(0,0,0,0)"},{"offset":0.3494,"color":"#000"},
{"offset":0.3687,"color":"#000"},{"offset":0.3687,"color":"rgba(0,0,0,0)"},{"offset":0.3854,"color":"rgba(0,0,0,0)"},{"offset":0.3854,"color":"#000"},
{"offset":0.4047,"color":"#000"},{"offset":0.4047,"color":"rgba(0,0,0,0)"},{"offset":0.4214,"color":"rgba(0,0,0,0)"},{"offset":0.4214,"color":"#000"},
{"offset":0.4408,"color":"#000"},{"offset":0.4408,"color":"rgba(0,0,0,0)"},{"offset":0.4575,"color":"rgba(0,0,0,0)"},{"offset":0.4575,"color":"#000"},
{"offset":0.4768,"color":"#000"},{"offset":0.4768,"color":"rgba(0,0,0,0)"},{"offset":0.4935,"color":"rgba(0,0,0,0)"},{"offset":0.4935,"color":"#000"},
{"offset":0.5129,"color":"#000"},{"offset":0.5129,"color":"rgba(0,0,0,0)"},{"offset":0.5296,"color":"rgba(0,0,0,0)"},{"offset":0.5296,"color":"#000"},
{"offset":0.5489,"color":"#000"},{"offset":0.5489,"color":"rgba(0,0,0,0)"},{"offset":0.5656,"color":"rgba(0,0,0,0)"},{"offset":0.5656,"color":"#000"},
{"offset":0.5849,"color":"#000"},{"offset":0.5849,"color":"rgba(0,0,0,0)"},{"offset":0.6016,"color":"rgba(0,0,0,0)"},{"offset":0.6016,"color":"#000"},
{"offset":0.6210,"color":"#000"},{"offset":0.6210,"color":"rgba(0,0,0,0)"},{"offset":0.6377,"color":"rgba(0,0,0,0)"},{"offset":0.6377,"color":"#000"},
{"offset":0.6570,"color":"#000"},{"offset":0.6570,"color":"rgba(0,0,0,0)"},{"offset":0.6737,"color":"rgba(0,0,0,0)"},{"offset":0.6737,"color":"#000"},
{"offset":0.6931,"color":"#000"},{"offset":0.6931,"color":"rgba(0,0,0,0)"},{"offset":0.7098,"color":"rgba(0,0,0,0)"},{"offset":0.7098,"color":"#000"},
{"offset":0.7291,"color":"#000"},{"offset":0.7291,"color":"rgba(0,0,0,0)"},{"offset":0.7458,"color":"rgba(0,0,0,0)"},{"offset":0.7458,"color":"#000"},
{"offset":0.7651,"color":"#000"},{"offset":0.7651,"color":"rgba(0,0,0,0)"},{"offset":0.7818,"color":"rgba(0,0,0,0)"},{"offset":0.7818,"color":"#000"},
{"offset":0.8012,"color":"#000"},{"offset":0.8012,"color":"rgba(0,0,0,0)"},{"offset":0.8179,"color":"rgba(0,0,0,0)"},{"offset":0.8179,"color":"#000"},
{"offset":0.8372,"color":"#000"},{"offset":0.8372,"color":"rgba(0,0,0,0)"},{"offset":0.8539,"color":"rgba(0,0,0,0)"},{"offset":0.8539,"color":"#000"},
{"offset":0.8733,"color":"#000"},{"offset":0.8733,"color":"rgba(0,0,0,0)"},{"offset":0.8900,"color":"rgba(0,0,0,0)"},{"offset":0.8900,"color":"#000"},
{"offset":0.9093,"color":"#000"},{"offset":0.9093,"color":"rgba(0,0,0,0)"},{"offset":0.9260,"color":"rgba(0,0,0,0)"},{"offset":0.9260,"color":"#000"},
{"offset":0.9453,"color":"#000"},{"offset":0.9453,"color":"rgba(0,0,0,0)"},{"offset":0.9620,"color":"rgba(0,0,0,0)"},{"offset":0.9620,"color":"#000"},
{"offset":0.9814,"color":"#000"},{"offset":0.9814,"color":"rgba(0,0,0,0)"},{"offset":0.9981,"color":"rgba(0,0,0,0)"},{"offset":0.9981,"color":"#000"},
{"offset":1,"color":"#000"}]}},
"encoding": {"x":{"field":"year","type":"quantitative","title":null,"axis":{"values":[1994,1995,1996,1997,1998,1999,2000,2001,2002,2003,2004,2005,2006,2007,2008,2009,2010,2011],"format":"d","title":null}},"y":{"field":"y0","type":"quantitative","title":null,"axis":{"values":[0,10,20,30,40,50,60,70,80,90,100],"labelExpr":"datum.value + '%'","title":null}},"y2":{"field":"y1"}}
},
{
"transform": [{"stack":"v","groupby":["year"],"sort":[{"field":"o","order":"ascending"}],"as":["y0","y1"]},{"filter":"datum.cat === 'выше средней'"}],
"mark": {"type":"area","fill":{"gradient":"linear","x1":0,"y1":0,"x2":1,"y2":0,"stops":[
{"offset":0,"color":"#fff"},
{"offset":0.0026,"color":"#fff"},{"offset":0.0026,"color":"#000"},{"offset":0.0064,"color":"#000"},{"offset":0.0064,"color":"#fff"},
{"offset":0.0434,"color":"#fff"},{"offset":0.0434,"color":"#000"},{"offset":0.0472,"color":"#000"},{"offset":0.0472,"color":"#fff"},
{"offset":0.0842,"color":"#fff"},{"offset":0.0842,"color":"#000"},{"offset":0.0880,"color":"#000"},{"offset":0.0880,"color":"#fff"},
{"offset":0.1250,"color":"#fff"},{"offset":0.1250,"color":"#000"},{"offset":0.1288,"color":"#000"},{"offset":0.1288,"color":"#fff"},
{"offset":0.1658,"color":"#fff"},{"offset":0.1658,"color":"#000"},{"offset":0.1696,"color":"#000"},{"offset":0.1696,"color":"#fff"},
{"offset":0.2066,"color":"#fff"},{"offset":0.2066,"color":"#000"},{"offset":0.2104,"color":"#000"},{"offset":0.2104,"color":"#fff"},
{"offset":0.2474,"color":"#fff"},{"offset":0.2474,"color":"#000"},{"offset":0.2512,"color":"#000"},{"offset":0.2512,"color":"#fff"},
{"offset":0.2882,"color":"#fff"},{"offset":0.2882,"color":"#000"},{"offset":0.2920,"color":"#000"},{"offset":0.2920,"color":"#fff"},
{"offset":0.3290,"color":"#fff"},{"offset":0.3290,"color":"#000"},{"offset":0.3328,"color":"#000"},{"offset":0.3328,"color":"#fff"},
{"offset":0.3698,"color":"#fff"},{"offset":0.3698,"color":"#000"},{"offset":0.3736,"color":"#000"},{"offset":0.3736,"color":"#fff"},
{"offset":0.4106,"color":"#fff"},{"offset":0.4106,"color":"#000"},{"offset":0.4144,"color":"#000"},{"offset":0.4144,"color":"#fff"},
{"offset":0.4514,"color":"#fff"},{"offset":0.4514,"color":"#000"},{"offset":0.4552,"color":"#000"},{"offset":0.4552,"color":"#fff"},
{"offset":0.4922,"color":"#fff"},{"offset":0.4922,"color":"#000"},{"offset":0.4960,"color":"#000"},{"offset":0.4960,"color":"#fff"},
{"offset":0.5330,"color":"#fff"},{"offset":0.5330,"color":"#000"},{"offset":0.5368,"color":"#000"},{"offset":0.5368,"color":"#fff"},
{"offset":0.5738,"color":"#fff"},{"offset":0.5738,"color":"#000"},{"offset":0.5776,"color":"#000"},{"offset":0.5776,"color":"#fff"},
{"offset":0.6146,"color":"#fff"},{"offset":0.6146,"color":"#000"},{"offset":0.6184,"color":"#000"},{"offset":0.6184,"color":"#fff"},
{"offset":0.6554,"color":"#fff"},{"offset":0.6554,"color":"#000"},{"offset":0.6592,"color":"#000"},{"offset":0.6592,"color":"#fff"},
{"offset":0.6962,"color":"#fff"},{"offset":0.6962,"color":"#000"},{"offset":0.7000,"color":"#000"},{"offset":0.7000,"color":"#fff"},
{"offset":0.7370,"color":"#fff"},{"offset":0.7370,"color":"#000"},{"offset":0.7408,"color":"#000"},{"offset":0.7408,"color":"#fff"},
{"offset":0.7778,"color":"#fff"},{"offset":0.7778,"color":"#000"},{"offset":0.7816,"color":"#000"},{"offset":0.7816,"color":"#fff"},
{"offset":0.8186,"color":"#fff"},{"offset":0.8186,"color":"#000"},{"offset":0.8224,"color":"#000"},{"offset":0.8224,"color":"#fff"},
{"offset":0.8594,"color":"#fff"},{"offset":0.8594,"color":"#000"},{"offset":0.8632,"color":"#000"},{"offset":0.8632,"color":"#fff"},
{"offset":0.9002,"color":"#fff"},{"offset":0.9002,"color":"#000"},{"offset":0.9040,"color":"#000"},{"offset":0.9040,"color":"#fff"},
{"offset":0.9410,"color":"#fff"},{"offset":0.9410,"color":"#000"},{"offset":0.9448,"color":"#000"},{"offset":0.9448,"color":"#fff"},
{"offset":0.9818,"color":"#fff"},{"offset":0.9818,"color":"#000"},{"offset":0.9856,"color":"#000"},{"offset":0.9856,"color":"#fff"},
{"offset":1,"color":"#fff"}]}},
"encoding": {"x":{"field":"year","type":"quantitative","title":null,"axis":{"values":[1994,1995,1996,1997,1998,1999,2000,2001,2002,2003,2004,2005,2006,2007,2008,2009,2010,2011],"format":"d","title":null}},"y":{"field":"y0","type":"quantitative","title":null,"axis":{"values":[0,10,20,30,40,50,60,70,80,90,100],"labelExpr":"datum.value + '%'","title":null}},"y2":{"field":"y1"}}
},
{
"transform": [{"stack":"v","groupby":["year"],"sort":[{"field":"o","order":"ascending"}],"as":["y0","y1"]},{"filter":"datum.cat === 'выше средней'"}],
"mark": {"type":"area","fill":{"gradient":"linear","x1":0,"y1":0,"x2":0,"y2":1,"stops":[
{"offset":0,"color":"#fff"},
{"offset":0.235,"color":"#fff"},{"offset":0.235,"color":"rgba(255,255,255,0)"},{"offset":0.300,"color":"rgba(255,255,255,0)"},{"offset":0.300,"color":"#fff"},
{"offset":0.568,"color":"#fff"},{"offset":0.568,"color":"rgba(255,255,255,0)"},{"offset":0.633,"color":"rgba(255,255,255,0)"},{"offset":0.633,"color":"#fff"},
{"offset":0.901,"color":"#fff"},{"offset":0.901,"color":"rgba(255,255,255,0)"},{"offset":0.966,"color":"rgba(255,255,255,0)"},{"offset":0.966,"color":"#fff"},
{"offset":1,"color":"#fff"}]}},
"encoding": {"x":{"field":"year","type":"quantitative","title":null,"axis":{"values":[1994,1995,1996,1997,1998,1999,2000,2001,2002,2003,2004,2005,2006,2007,2008,2009,2010,2011],"format":"d","title":null}},"y":{"field":"y0","type":"quantitative","title":null,"axis":{"values":[0,10,20,30,40,50,60,70,80,90,100],"labelExpr":"datum.value + '%'","title":null}},"y2":{"field":"y1"}}
},
{
"transform": [{"stack":"v","groupby":["year"],"sort":[{"field":"o","order":"ascending"}],"as":["y0","y1"]},{"filter":"datum.cat === 'высокая'"}],
"mark": {"type":"area","fill":"#000"},
"encoding": {"x":{"field":"year","type":"quantitative","title":null,"axis":{"values":[1994,1995,1996,1997,1998,1999,2000,2001,2002,2003,2004,2005,2006,2007,2008,2009,2010,2011],"format":"d","title":null}},"y":{"field":"y0","type":"quantitative","title":null,"axis":{"values":[0,10,20,30,40,50,60,70,80,90,100],"labelExpr":"datum.value + '%'","title":null}},"y2":{"field":"y1"}}
},
{
"transform": [{"filter":"false"}],
"mark": {"type":"square","opacity":1},
"encoding": {
"color": {"field":"cat","type":"nominal","scale":{"domain":["низкая","ниже средней","средняя","выше средней","высокая"],"range":["#111111","#ffffff","#333333","#ffffff","#000000"]},
"legend":{"orient":"none","legendX":6,"legendY":447,"direction":"horizontal","title":null,"symbolType":"square","symbolSize":400,"symbolStrokeColor":"#000","symbolStrokeWidth":1.5,"symbolOpacity":1,"labelFont":"Liberation Sans","labelFontSize":15,"labelColor":"#000","labelOffset":14,"columnPadding":26,"labelLimit":500,"padding":0,
"labelExpr":"datum.label === 'выше средней' ? datum.label + '\u00a0\u00a0\u00a0\u00a0\u00a0\u00a0\u00a0\u00a0\u00a0\u00a0\u00a0\u00a0\u00a0\u00a0\u00a0\u200b' : datum.label",
"encode":{"symbols":{"update":{"fill":[{"test":"datum.value === 'ниже средней'","value":{"gradient":"linear","x1":0,"y1":0,"x2":1,"y2":0,"stops":[{"offset":0,"color":"#fff"},{"offset":0.4,"color":"#fff"},{"offset":0.4,"color":"#000"},{"offset":0.6,"color":"#000"},{"offset":0.6,"color":"#fff"},{"offset":1,"color":"#fff"}]}},{"test":"datum.value === 'низкая'","value":"#111111"},{"test":"datum.value === 'средняя'","value":"#333333"},{"test":"datum.value === 'выше средней'","value":"#ffffff"},{"value":"#000000"}],"stroke":{"value":"#000"},"y":[{"test":"datum.value === 'высокая'","value":18},{"value":10}]}},
"labels":{"update":{"dy":[{"test":"datum.value === 'высокая'","value":8},{"value":0}]}}}}}
}
},
{
"data": {"values":[{}]},
"mark": {"type":"rule","color":"#000","strokeWidth":3},
"encoding": {"x":{"datum":1994,"type":"quantitative","axis":{"values":[1994,1995,1996,1997,1998,1999,2000,2001,2002,2003,2004,2005,2006,2007,2008,2009,2010,2011],"format":"d","title":null}},"x2":{"datum":2011},"y":{"datum":0,"type":"quantitative","axis":{"values":[0,10,20,30,40,50,60,70,80,90,100],"labelExpr":"datum.value + '%'","title":null}}}
},
{
"data": {"name":"notes"},
"mark": {"type":"rect","fill":"#fff"},
"encoding": {"x":{"field":"bx","type":"quantitative","title":null,"axis":{"values":[1994,1995,1996,1997,1998,1999,2000,2001,2002,2003,2004,2005,2006,2007,2008,2009,2010,2011],"format":"d","title":null}},"x2":{"field":"bx2"},"y":{"field":"by","type":"quantitative","title":null,"axis":{"values":[0,10,20,30,40,50,60,70,80,90,100],"labelExpr":"datum.value + '%'","title":null}},"y2":{"field":"by2"}}
},
{
"data": {"name":"notes"},
"mark": {"type":"text","align":"left","baseline":"middle","font":"Liberation Sans","fontSize":16,"color":"#000"},
"encoding": {"x":{"field":"tx","type":"quantitative","title":null,"axis":{"values":[1994,1995,1996,1997,1998,1999,2000,2001,2002,2003,2004,2005,2006,2007,2008,2009,2010,2011],"format":"d","title":null}},"y":{"field":"ty","type":"quantitative","title":null,"axis":{"values":[0,10,20,30,40,50,60,70,80,90,100],"labelExpr":"datum.value + '%'","title":null}},"text":{"field":"label"}}
}
],
"config": {
"view": {"stroke":"#8c8c8c","strokeWidth":3},
"axisX": {"labelAngle":270,"labelAlign":"right","labelBaseline":"middle","labelFont":"Liberation Sans","labelFontSize":16,"labelColor":"#000","labelPadding":10,"tickSize":7,"tickWidth":3,"tickColor":"#000","domain":false,"grid":false,"zindex":0,"labelFlush":false,"labelOverlap":false},
"axisY": {"labelFont":"Liberation Sans","labelFontSize":16,"labelColor":"#000","labelPadding":13,"tickSize":10,"tickWidth":3,"tickColor":"#000","domainColor":"#000","domainWidth":3,"grid":false,"zindex":1,"labelFlush":false,"labelOverlap":false}
}
}
